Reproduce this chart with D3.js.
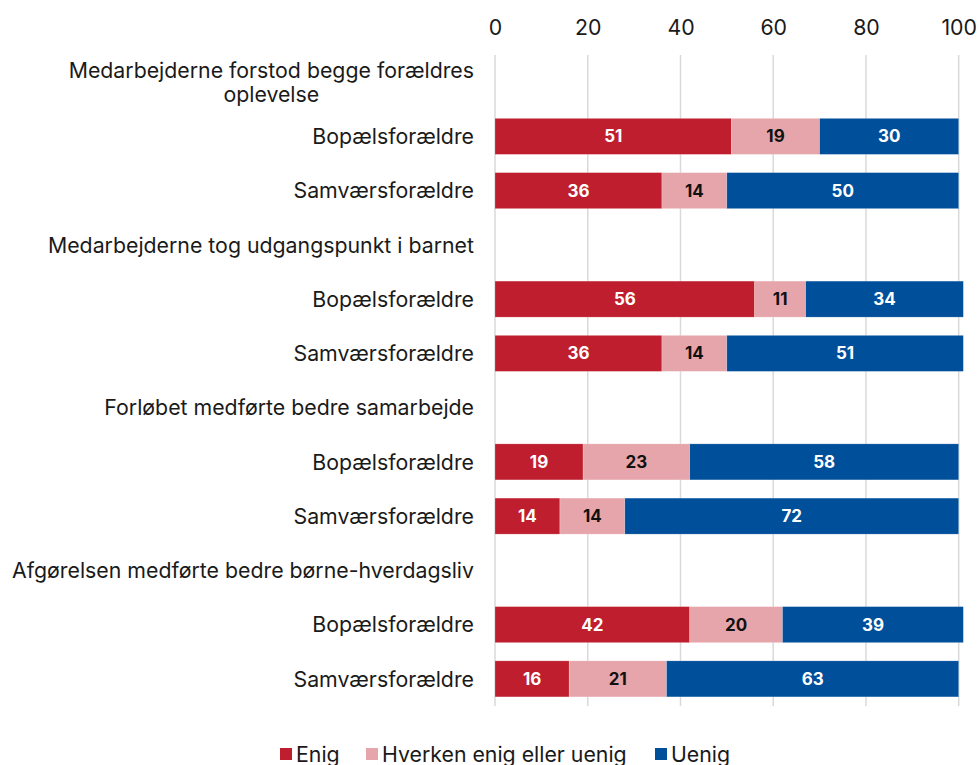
<!DOCTYPE html>
<html lang="da">
<head>
<meta charset="utf-8">
<title>Stacked bars</title>
<script src="https://d3js.org/d3.v7.min.js"></script>
<style>
    html, body { margin: 0; padding: 0; background: #fff; }
    text { font-family: Inter, "Noto Sans", sans-serif; fill: #1a1a1a; }
    .grid line { stroke: #d9d9d9; stroke-width: 1.5px; }
    .axis path, .axis line { display: none; }
</style>
</head>
<body>
<script>
    // rows top to bottom; header rows have no values
    var rows = [
        "Medarbejderne forstod begge forældres|oplevelse", "Bopælsforældre", "Samværsforældre",
        "Medarbejderne tog udgangspunkt i barnet", "Bopælsforældre", "Samværsforældre",
        "Forløbet medførte bedre samarbejde", "Bopælsforældre", "Samværsforældre",
        "Afgørelsen medførte bedre børne-hverdagsliv", "Bopælsforældre", "Samværsforældre"
    ];
    var enig    = [null, 51, 36, null, 56, 36, null, 19, 14, null, 42, 16];
    var hverken = [null, 19, 14, null, 11, 14, null, 23, 14, null, 20, 21];
    var uenig   = [null, 30, 50, null, 34, 51, null, 58, 72, null, 39, 63];
    var seriesNames = ["Enig", "Hverken enig eller uenig", "Uenig"];
    var colors = ["#be1e2d", "#e6a5aa", "#004f9a"];
    var textColors = ["#ffffff", "#111111", "#ffffff"];
    var ticks = [0, 20, 40, 60, 80, 100];

    var w = 979, h = 765;
    var plotLeft = 495, plotRight = 958.7, plotTop = 55, plotBottom = 706;
    var labelSize = "21.3px";

    var svg = d3.select("body").append("svg")
        .attr("width", w).attr("height", h);

    var x = d3.scaleLinear().domain([0, 100]).range([plotLeft, plotRight]);
    var y = d3.scaleBand().domain(d3.range(rows.length)).range([plotTop, plotBottom])
        .paddingInner(0.336).paddingOuter(0.168);

    // gridlines
    svg.append("g").attr("class", "grid")
        .selectAll("line").data(ticks).enter().append("line")
        .attr("x1", function(d) { return x(d); })
        .attr("x2", function(d) { return x(d); })
        .attr("y1", plotTop).attr("y2", plotBottom);

    // top axis
    var xAxis = d3.axisTop(x).tickValues(ticks).tickSize(0).tickPadding(0);
    svg.append("g").attr("class", "axis")
        .attr("transform", "translate(0,35)")
        .call(xAxis)
        .call(function(g) {
            g.selectAll("text").style("font-size", labelSize).attr("fill", "#1a1a1a")
             .style("font-family", "Inter, sans-serif");
        });

    // stacked data
    var data = rows.map(function(r, i) {
        return { i: i, vals: [enig[i], hverken[i], uenig[i]] };
    }).filter(function(d) { return d.vals[0] !== null; });

    var segs = [];
    data.forEach(function(d) {
        var acc = 0;
        d.vals.forEach(function(v, k) {
            segs.push({ i: d.i, k: k, x0: acc, x1: acc + v, v: v });
            acc += v;
        });
    });

    svg.append("g").selectAll("rect").data(segs).enter().append("rect")
        .attr("x", function(d) { return x(d.x0); })
        .attr("width", function(d) { return x(d.x1) - x(d.x0); })
        .attr("y", function(d) { return y(d.i); })
        .attr("height", y.bandwidth())
        .attr("fill", function(d) { return colors[d.k]; })
        .attr("stroke", "#ffffff").attr("stroke-opacity", 0.35).attr("stroke-width", 0.6);

    svg.append("g").selectAll("text").data(segs).enter().append("text")
        .attr("x", function(d) { return (x(d.x0) + x(d.x1)) / 2; })
        .attr("y", function(d) { return y(d.i) + y.bandwidth() / 2; })
        .attr("dy", "0.36em")
        .attr("text-anchor", "middle")
        .style("font-size", "17px").style("font-weight", "700")
        .style("fill", function(d) { return textColors[d.k]; })
        .text(function(d) { return d.v; });

    // category labels
    var labelX = 474;
    var labelG = svg.append("g");
    rows.forEach(function(r, i) {
        var parts = r.split("|");
        var cy = y(i) + y.bandwidth() / 2;
        if (parts.length === 1) {
            labelG.append("text")
                .attr("text-anchor", "end").style("font-size", labelSize)
                .attr("x", labelX).attr("y", cy).attr("dy", "0.36em").text(r);
        } else {
            // two lines, second one centred under the first
            var first = labelG.append("text")
                .attr("text-anchor", "end").style("font-size", labelSize)
                .attr("x", labelX).attr("y", cy - 12).attr("dy", "0.36em").text(parts[0]);
            var wFirst = first.node().getComputedTextLength();
            labelG.append("text")
                .attr("text-anchor", "middle").style("font-size", labelSize)
                .attr("x", labelX - wFirst / 2).attr("y", cy + 12).attr("dy", "0.36em")
                .text(parts[1]);
        }
    });

    // legend
    var legX = [280, 366, 655];
    var leg = svg.append("g").selectAll("g").data(seriesNames).enter().append("g")
        .attr("transform", function(d, k) { return "translate(" + legX[k] + ",754)"; });
    leg.append("rect").attr("x", 0).attr("y", -6).attr("width", 12).attr("height", 12)
        .attr("fill", function(d, k) { return colors[k]; });
    leg.append("text").attr("x", 16).attr("dy", "0.36em").style("font-size", labelSize)
        .text(function(d) { return d; });
</script>
</body>
</html>
